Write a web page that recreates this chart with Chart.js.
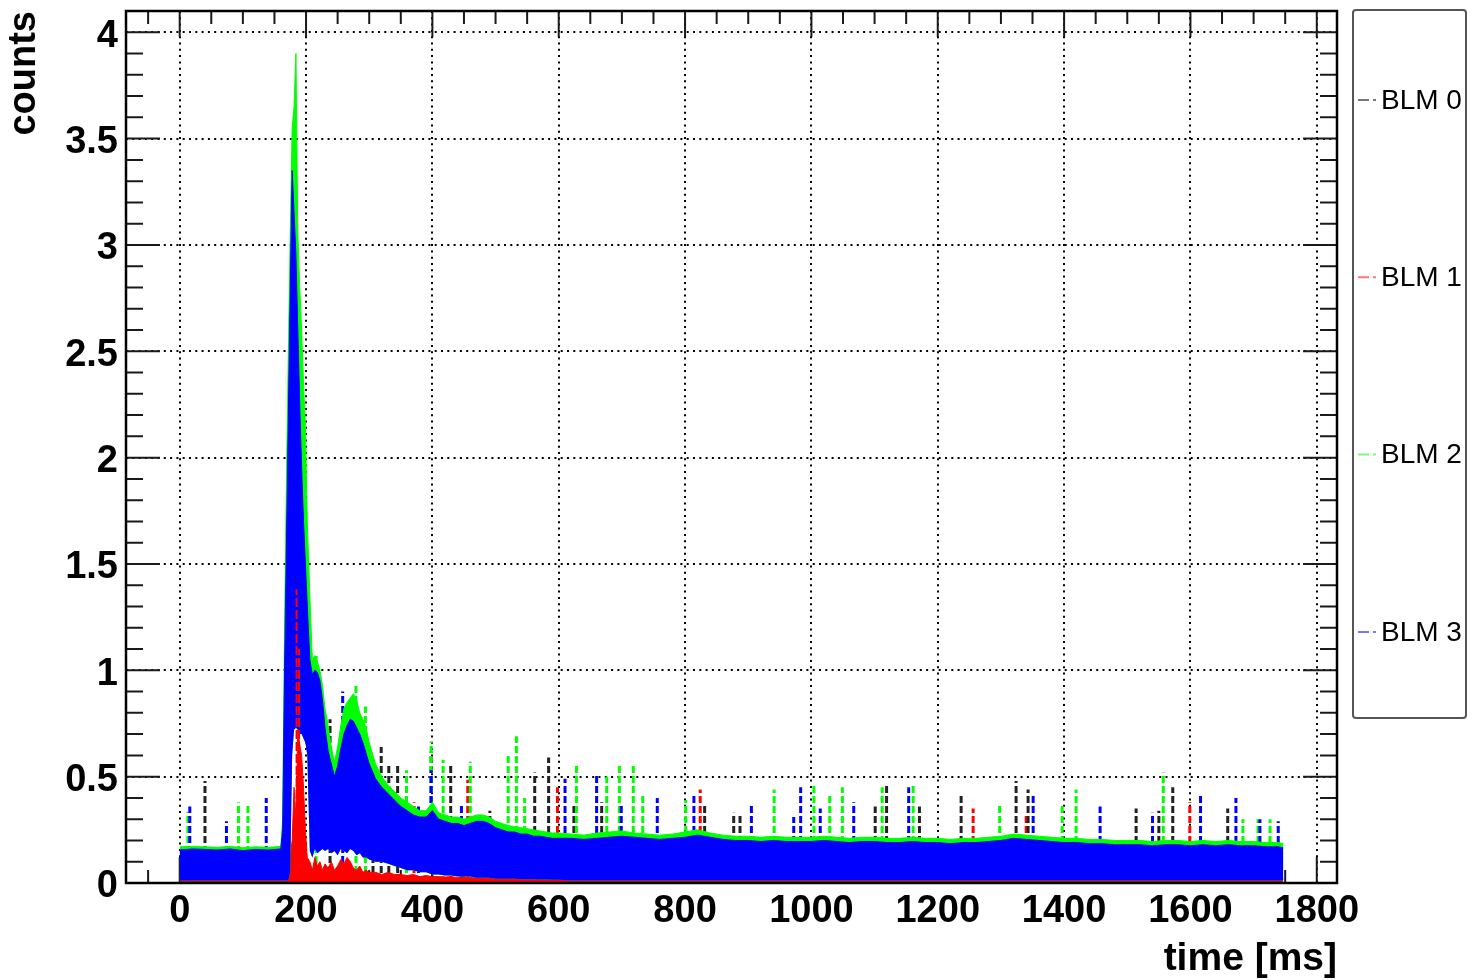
<!DOCTYPE html>
<html><head><meta charset="utf-8">
<script src="https://cdn.jsdelivr.net/npm/chart.js@4.4.1/dist/chart.umd.min.js"></script>
<style>html,body{margin:0;padding:0;background:#fff;}#wrap{width:1472px;height:980px;position:relative;}</style>
</head><body><div id="wrap"><canvas id="c" width="1472" height="980"></canvas></div>
<script>
// ---------------- data ----------------
const seriesNames = ['BLM 0', 'BLM 1', 'BLM 2', 'BLM 3'];
const seriesColors = ['#000000', '#ff0000', '#00ff00', '#0000ff'];
const legendSampleColors = ['#777777', '#ff7777', '#77ff77', '#7777ff'];

const xTickValues = [0, 200, 400, 600, 800, 1000, 1200, 1400, 1600, 1800];
const xTickLabels = ['0', '200', '400', '600', '800', '1000', '1200', '1400', '1600', '1800'];
const yTickValues = [0, 0.5, 1, 1.5, 2, 2.5, 3, 3.5, 4];
const yTickLabels = ['0', '0.5', '1', '1.5', '2', '2.5', '3', '3.5', '4'];

// sample times [ms] of the band envelopes
const times = [0,20,40,60,80,100,120,140,160,
  163,166,169,172,175,178,181,184,187,190,193,196,199,202,
  206,210,214,218,222,226,230,
  235,240,245,250,255,260,265,270,275,280,285,290,295,300,
  310,320,330,340,350,360,370,380,390,400,410,420,430,440,450,460,470,480,490,500,510,520,530,540,550,560,570,580,590,600,
  620,640,660,680,700,720,740,760,780,800,820,840,860,880,900,920,940,960,980,1000,
  1020,1040,1060,1080,1100,1120,1140,1160,1180,1200,1220,1240,1260,1280,1300,1320,1340,1360,1380,1400,
  1420,1440,1460,1480,1500,1520,1540,1560,1580,1600,1620,1640,1660,1680,1700,1720,1740,1747];

// BLM 3 (blue) upper edge of the dense band
const blueHigh = [0.155,0.16,0.158,0.155,0.16,0.152,0.158,0.155,0.16,
  0.25,1.0,1.6,2.2,2.8,3.35,3.15,2.95,2.6,2.25,1.95,1.7,1.5,1.3,
  1.05,0.98,1.0,0.99,0.95,0.86,0.73,
  0.62,0.56,0.5,0.55,0.63,0.7,0.74,0.77,0.76,0.73,0.7,0.66,0.61,0.56,
  0.49,0.45,0.42,0.39,0.36,0.34,0.32,0.31,0.31,0.34,0.3,0.29,0.28,0.28,0.27,0.28,0.29,0.29,0.28,0.26,0.25,0.24,0.24,0.23,0.23,0.22,0.22,0.215,0.21,0.21,
  0.21,0.205,0.21,0.215,0.22,0.215,0.21,0.205,0.21,0.215,
  0.225,0.215,0.205,0.2,0.2,0.195,0.2,0.195,0.195,0.195,
  0.2,0.195,0.19,0.195,0.195,0.19,0.19,0.195,0.19,0.19,
  0.185,0.19,0.19,0.195,0.2,0.21,0.205,0.2,0.195,0.19,
  0.19,0.185,0.185,0.18,0.18,0.18,0.175,0.18,0.18,0.175,
  0.18,0.175,0.18,0.175,0.175,0.17,0.17,0.165];

// BLM 2 (green) upper edge of the dense band
const greenHigh = [0.17,0.172,0.17,0.168,0.172,0.166,0.17,0.168,0.172,
  0.3,1.2,1.9,2.5,3.05,3.55,3.65,3.9,3.05,2.8,2.6,2.35,2.15,1.7,
  1.35,1.05,1.07,1.04,1.0,0.93,0.82,
  0.74,0.64,0.57,0.64,0.74,0.82,0.85,0.87,0.89,0.86,0.8,0.77,0.73,0.66,
  0.56,0.5,0.46,0.43,0.4,0.38,0.36,0.34,0.34,0.38,0.33,0.32,0.31,0.31,0.3,0.31,0.32,0.32,0.31,0.29,0.28,0.27,0.265,0.26,0.255,0.25,0.245,0.24,0.235,0.235,
  0.23,0.225,0.235,0.24,0.245,0.235,0.23,0.225,0.23,0.24,
  0.25,0.235,0.225,0.22,0.22,0.215,0.22,0.215,0.215,0.215,
  0.22,0.215,0.21,0.215,0.215,0.21,0.21,0.215,0.21,0.21,
  0.205,0.21,0.21,0.215,0.22,0.23,0.225,0.22,0.215,0.21,
  0.21,0.205,0.205,0.2,0.2,0.2,0.195,0.2,0.2,0.195,
  0.2,0.195,0.2,0.195,0.195,0.19,0.19,0.185];

// lower edge of the dense blue/green band (gap under the peak)
const bandLow = [0.012,0.012,0.012,0.012,0.012,0.012,0.012,0.012,0.012,
  0.012,0.012,0.012,0.012,0.05,0.6,0.72,0.73,0.72,0.7,0.7,0.68,0.66,0.6,
  0.15,0.12,0.16,0.14,0.15,0.16,0.15,
  0.16,0.14,0.15,0.13,0.16,0.15,0.14,0.16,0.15,0.13,0.14,0.12,0.12,0.11,
  0.1,0.1,0.09,0.08,0.07,0.06,0.06,0.05,0.05,0.04,0.04,0.035,0.035,0.03,0.03,0.03,0.025,0.025,0.025,0.02,0.02,0.02,0.02,0.018,0.018,0.018,0.016,0.016,0.015,0.015,
  0.012,0.012,0.012,0.012,0.012,0.012,0.012,0.012,0.012,0.012,
  0.012,0.012,0.012,0.012,0.012,0.012,0.012,0.012,0.012,0.012,
  0.012,0.012,0.012,0.012,0.012,0.012,0.012,0.012,0.012,0.012,
  0.012,0.012,0.012,0.012,0.012,0.012,0.012,0.012,0.012,0.012,
  0.012,0.012,0.012,0.012,0.012,0.012,0.012,0.012,0.012,0.012,
  0.012,0.012,0.012,0.012,0.012,0.012,0.012,0.012];

// BLM 1 (red) upper edge (mostly hidden under the band)
const redHigh = [0.022,0.02,0.024,0.02,0.022,0.025,0.02,0.022,0.02,
  0.02,0.02,0.03,0.05,0.12,0.2,0.45,0.3,0.72,0.65,0.6,0.45,0.25,0.12,
  0.1,0.06,0.12,0.08,0.1,0.06,0.09,
  0.07,0.1,0.06,0.08,0.11,0.09,0.12,0.1,0.07,0.06,0.08,0.05,0.06,0.05,
  0.05,0.04,0.05,0.04,0.04,0.035,0.04,0.03,0.035,0.03,0.03,0.028,0.03,0.025,0.028,0.025,0.025,0.025,0.022,0.022,0.022,0.02,0.022,0.02,0.02,0.02,0.02,0.02,0.02,0.02,
  0.022,0.02,0.022,0.02,0.022,0.02,0.022,0.02,0.022,0.02,
  0.022,0.02,0.022,0.02,0.022,0.02,0.022,0.02,0.022,0.02,
  0.022,0.02,0.022,0.02,0.022,0.02,0.022,0.02,0.022,0.02,
  0.022,0.02,0.022,0.02,0.022,0.02,0.022,0.02,0.022,0.02,
  0.022,0.02,0.022,0.02,0.022,0.02,0.022,0.02,0.022,0.02,
  0.022,0.02,0.022,0.02,0.022,0.02,0.022,0.02];

// isolated spikes above the band: time [ms] and height [counts]
const blm0SpikeTimes   = [40,238,306,319,331,345,398,429,491,562,584,624,668,831,877,887,1101,1119,1171,1237,1324,1343,1514,1550,1572,1659];
const blm0SpikeHeights = [0.48,0.77,0.58,0.64,0.555,0.555,0.62,0.55,0.34,0.52,0.59,0.37,0.38,0.37,0.33,0.32,0.36,0.46,0.36,0.41,0.48,0.44,0.35,0.34,0.45,0.35];
const blm1SpikeTimes   = [371,456,598,824,1256,1340,1599];
const blm1SpikeHeights = [0.38,0.485,0.45,0.44,0.35,0.32,0.38];
// red streaks visible inside the main peak
const blm1PeakTimes    = [185,189];
const blm1PeakHeights  = [1.38,1.1];
const blm2SpikeTimes   = [13,93,108,216,279,294,359,398,417,460,520,533,546,628,676,696,718,733,801,941,1004,1029,1049,1112,1161,1298,1397,1419,1557,1683,1707,1726];
const blm2SpikeHeights = [0.335,0.38,0.375,1.08,0.93,0.83,0.53,0.665,0.58,0.57,0.6,0.69,0.4,0.55,0.5,0.555,0.555,0.41,0.39,0.44,0.46,0.41,0.45,0.45,0.47,0.37,0.37,0.44,0.52,0.3,0.3,0.3];
const blm3SpikeTimes   = [16,74,137,258,378,398,446,610,660,699,756,814,905,972,983,1014,1067,1154,1351,1457,1540,1616,1672,1710,1739];
const blm3SpikeHeights = [0.36,0.29,0.40,0.90,0.36,0.53,0.37,0.49,0.51,0.375,0.40,0.41,0.375,0.31,0.45,0.35,0.38,0.45,0.41,0.36,0.33,0.42,0.40,0.30,0.29];

// ---------------- build datasets ----------------
const pts = (ys) => times.map((t, i) => ({x: t, y: ys[i]}));
function spikes(ts, hs) {
  const d = [];
  ts.forEach((t, i) => { d.push({x: t, y: 0}, {x: t, y: hs[i]}, {x: t, y: null}); });
  return d;
}
const base = {pointRadius: 0, pointHoverRadius: 0, tension: 0, spanGaps: false};
const spikeStyle = {borderWidth: 3, borderDash: [7, 3], fill: false};
const datasets = [
  // 0: blue band lower edge
  Object.assign({label: 'blueLow', data: pts(bandLow), borderWidth: 0, fill: false, order: 20}, base),
  // 1: blue band
  Object.assign({label: seriesNames[3], data: pts(blueHigh), borderColor: seriesColors[3], borderWidth: 1,
    backgroundColor: seriesColors[3], fill: 0, order: 20}, base),
  // 2: green band lower edge
  Object.assign({label: 'greenLow', data: pts(bandLow), borderWidth: 0, fill: false, order: 30}, base),
  // 3: green band
  Object.assign({label: seriesNames[2], data: pts(greenHigh), borderColor: seriesColors[2], borderWidth: 1,
    backgroundColor: seriesColors[2], fill: 2, order: 30}, base),
  // 4: red band
  Object.assign({label: seriesNames[1], data: pts(redHigh), borderColor: seriesColors[1], borderWidth: 1,
    backgroundColor: seriesColors[1], fill: 'origin', order: 40}, base),
  // spikes (under the band)
  Object.assign({label: seriesNames[3] + ' spikes', data: spikes(blm3SpikeTimes, blm3SpikeHeights), borderColor: seriesColors[3], order: 47}, spikeStyle, base),
  Object.assign({label: seriesNames[2] + ' spikes', data: spikes(blm2SpikeTimes, blm2SpikeHeights), borderColor: seriesColors[2], order: 48}, spikeStyle, base),
  Object.assign({label: seriesNames[0] + ' spikes', data: spikes(blm0SpikeTimes, blm0SpikeHeights), borderColor: '#222222', order: 49}, spikeStyle, base),
  Object.assign({label: seriesNames[1] + ' spikes', data: spikes(blm1SpikeTimes, blm1SpikeHeights), borderColor: seriesColors[1], order: 50}, spikeStyle, base),
  // red streaks over the peak
  Object.assign({label: seriesNames[1] + ' peak', data: spikes(blm1PeakTimes, blm1PeakHeights), borderColor: seriesColors[1], order: 15},
    {borderWidth: 2, borderDash: [9, 3], fill: false}, base)
];

// ---------------- ROOT-like frame, inner ticks, legend ----------------
const rootStyle = {
  id: 'rootStyle',
  beforeDatasetsDraw(chart) {
    const {ctx, chartArea: a, scales: {x, y}} = chart;
    ctx.save();
    ctx.strokeStyle = '#1a1a1a';
    ctx.lineWidth = 2;
    ctx.setLineDash([]);
    ctx.beginPath();
    for (let v = -50; v <= 1850; v += 50) {
      const px = x.getPixelForValue(v);
      if (px <= a.left + 1 || px >= a.right - 1) continue;
      const len = (v % 200 === 0) ? 26 : 13;
      ctx.moveTo(px, a.bottom); ctx.lineTo(px, a.bottom - len);
      ctx.moveTo(px, a.top); ctx.lineTo(px, a.top + len);
    }
    for (let k = 1; k <= 40; k++) {
      const py = y.getPixelForValue(k / 10);
      const len = (k % 5 === 0) ? 34 : 17;
      ctx.moveTo(a.left, py); ctx.lineTo(a.left + len, py);
      ctx.moveTo(a.right, py); ctx.lineTo(a.right - len, py);
    }
    ctx.stroke();
    ctx.restore();
  },
  afterDatasetsDraw(chart) {
    const {ctx, chartArea: a} = chart;
    ctx.save();
    ctx.strokeStyle = '#000';
    ctx.lineWidth = 2.5;
    ctx.setLineDash([]);
    ctx.strokeRect(a.left, a.top, a.right - a.left, a.bottom - a.top);
    ctx.restore();
  },
  afterDraw(chart) {
    const {ctx} = chart;
    ctx.save();
    ctx.strokeStyle = '#555';
    ctx.lineWidth = 2;
    ctx.beginPath();
    ctx.roundRect(1353, 10, 113, 708, 3);
    ctx.stroke();
    ctx.font = '28px "Liberation Sans", Arial, sans-serif';
    ctx.textBaseline = 'middle';
    ctx.textAlign = 'left';
    seriesNames.forEach((name, i) => {
      const yy = 100 + i * 177.3;
      ctx.strokeStyle = legendSampleColors[i];
      ctx.lineWidth = 2;
      ctx.beginPath();
      ctx.moveTo(1358, yy); ctx.lineTo(1369, yy);
      ctx.moveTo(1373, yy); ctx.lineTo(1376, yy);
      ctx.stroke();
      ctx.fillStyle = '#000';
      ctx.fillText(name, 1381, yy + 1);
    });
    ctx.restore();
  }
};

const tickFont = {family: '"Liberation Sans", Arial, sans-serif', size: 38, weight: 'bold'};
new Chart(document.getElementById('c'), {
  type: 'line',
  data: {datasets},
  options: {
    responsive: false,
    animation: false,
    devicePixelRatio: 1,
    layout: {padding: {top: 11, right: 135, left: 0, bottom: 0}},
    plugins: {legend: {display: false}, tooltip: {enabled: false}},
    scales: {
      x: {
        type: 'linear', min: -85, max: 1832, offset: false,
        afterBuildTicks: (s) => { s.ticks = xTickValues.map(v => ({value: v})); },
        afterFit: (s) => { s.height = 97; s.paddingLeft = 0; s.paddingRight = 0; },
        ticks: {callback: (v, i) => xTickLabels[i], font: tickFont, color: '#000', padding: 6, maxRotation: 0, autoSkip: false},
        grid: {color: '#000', lineWidth: 2, drawTicks: false},
        border: {display: false, dash: [2, 4.3]},
        title: {display: true, text: 'time [ms]', align: 'end', color: '#000',
          font: {family: '"Liberation Sans", Arial, sans-serif', size: 39, weight: 'bold', lineHeight: 1.2}, padding: {top: 0, bottom: -3}}
      },
      y: {
        type: 'linear', min: 0, max: 4.1,
        afterBuildTicks: (s) => { s.ticks = yTickValues.map(v => ({value: v})); },
        afterFit: (s) => { s.width = 126; s.paddingTop = 0; s.paddingBottom = 0; },
        ticks: {callback: (v, i) => yTickLabels[i], font: tickFont, color: '#000', padding: 8, labelOffset: 4, autoSkip: false},
        grid: {color: '#000', lineWidth: 2, drawTicks: false},
        border: {display: false, dash: [2, 4.3]},
        title: {display: true, text: 'counts', align: 'end', color: '#000',
          font: {family: '"Liberation Sans", Arial, sans-serif', size: 38, weight: 'bold', lineHeight: 1.2}, padding: {top: 2, bottom: 0}}
      }
    }
  },
  plugins: [rootStyle]
});
</script>
</body></html>
